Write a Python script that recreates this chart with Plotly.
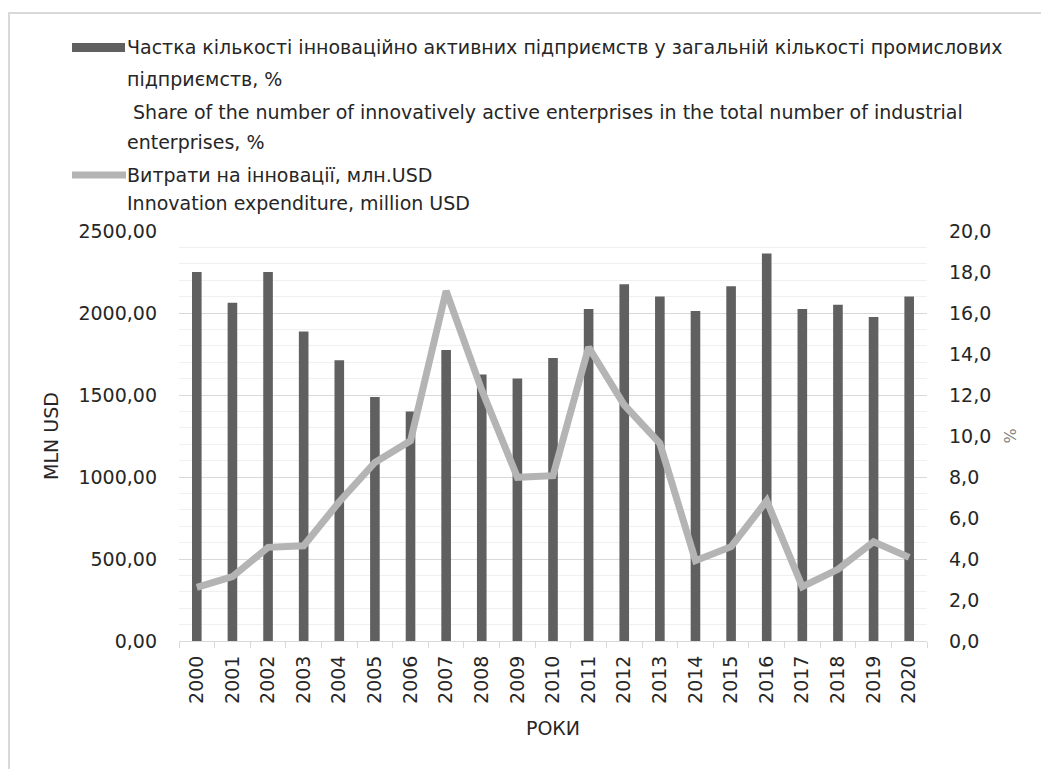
import plotly.graph_objects as go

# ---- data ----
years = [str(y) for y in range(2000, 2021)]
share_pct = [18.0, 16.5, 18.0, 15.1, 13.7, 11.9, 11.2, 14.2, 13.0, 12.8, 13.8,
             16.2, 17.4, 16.8, 16.1, 17.3, 18.9, 16.2, 16.4, 15.8, 16.8]
expenditure_musd = [327, 392, 571, 581, 849, 1089, 1221, 2134, 1530, 998, 1008,
                    1791, 1439, 1205, 490, 575, 855, 331, 437, 605, 510]

bar_name_lines = [
    "Частка кількості інноваційно активних підприємств у загальній кількості промислових",
    "підприємств, %",
    " Share of the number of innovatively active enterprises in the total number of industrial",
    "enterprises, %",
]
line_name_lines = [
    "Витрати на інновації, млн.USD",
    "Innovation expenditure, million USD",
]

# ---- layout geometry (page pixels; the page body adds an 8px offset) ----
OFF = 8
PAGE_W, PAGE_H = 1049, 769
W, H = PAGE_W - OFF, PAGE_H - OFF
L, R, T, B = 179, 927, 231, 641
PW, PH = R - L, B - T


def px(x):
    return (x - L) / PW


def py(y):
    return (B - y) / PH


FONT = "DejaVu Sans"
FS = 19
TXT = "#262626"
BAR_COLOR = "#606060"
LINE_COLOR = "#b4b4b4"

fig = go.Figure()
fig.add_trace(go.Bar(
    x=years, y=share_pct, name=" ".join(bar_name_lines),
    marker=dict(color=BAR_COLOR, line=dict(width=0)),
    width=0.27, yaxis="y", showlegend=False,
))
fig.add_trace(go.Scatter(
    x=years, y=expenditure_musd, name=" ".join(line_name_lines),
    mode="lines", line=dict(color=LINE_COLOR, width=7),
    yaxis="y2", showlegend=False,
))

annotations = []
bar_line_y = [47, 79, 112, 142]
for txt, yy in zip(bar_name_lines, bar_line_y):
    annotations.append(dict(text=txt, x=px(125), y=py(yy), xref="paper", yref="paper",
                            xanchor="left", yanchor="middle", showarrow=False,
                            font=dict(family=FONT, size=FS, color=TXT)))
line_line_y = [175, 203]
for txt, yy in zip(line_name_lines, line_line_y):
    annotations.append(dict(text=txt, x=px(125), y=py(yy), xref="paper", yref="paper",
                            xanchor="left", yanchor="middle", showarrow=False,
                            font=dict(family=FONT, size=FS, color=TXT)))

shapes = [
    dict(type="rect", xref="paper", yref="paper", x0=px(72), x1=px(125),
         y0=py(52), y1=py(43), fillcolor=BAR_COLOR, line=dict(width=0)),
    dict(type="line", xref="paper", yref="paper", x0=px(72), x1=px(126),
         y0=py(175), y1=py(175), line=dict(color=LINE_COLOR, width=7)),
    dict(type="line", xref="paper", yref="paper", x0=px(9), x1=px(9),
         y0=py(780), y1=py(13), line=dict(color="#d9d9d9", width=2)),
    dict(type="line", xref="paper", yref="paper", x0=px(8), x1=px(1060),
         y0=py(13), y1=py(13), line=dict(color="#d9d9d9", width=2)),
]

fig.update_layout(
    width=W, height=H,
    margin=dict(l=L - OFF, r=W - (R - OFF), t=T - OFF, b=H - (B - OFF), pad=0),
    paper_bgcolor="white", plot_bgcolor="white",
    separators=",.",
    font=dict(family=FONT, size=FS, color=TXT),
    bargap=0.73,
    annotations=annotations,
    shapes=shapes,
    xaxis=dict(
        type="category", tickangle=-90, ticks="outside", tickson="boundaries",
        ticklen=6, tickcolor="#d9d9d9", showline=True, linecolor="#d9d9d9",
        linewidth=1, showgrid=False, ticklabelstandoff=6,
        tickfont=dict(family=FONT, size=FS, color=TXT),
        title=dict(text="РОКИ", font=dict(family=FONT, size=FS, color=TXT), standoff=18),
    ),
    yaxis=dict(
        side="right", range=[0, 20], dtick=2, tickformat=".1f",
        showgrid=False, zeroline=False, showline=False, ticks="",
        ticklabelstandoff=21,
        tickfont=dict(family=FONT, size=FS, color=TXT),
        title=dict(text="%", font=dict(family=FONT, size=16, color="#808080"), standoff=14),
    ),
    yaxis2=dict(
        overlaying="y", side="left", range=[0, 2500], dtick=500, tickformat=".2f",
        showgrid=True, gridcolor="#d9d9d9", gridwidth=1,
        minor=dict(dtick=100, showgrid=True, gridcolor="#f0f0f0", gridwidth=1),
        zeroline=False, showline=False, ticks="",
        ticklabelstandoff=21,
        tickfont=dict(family=FONT, size=FS, color=TXT),
        title=dict(text="MLN USD", font=dict(family=FONT, size=FS, color=TXT), standoff=14),
    ),
)

fig.write_html("out.html")
